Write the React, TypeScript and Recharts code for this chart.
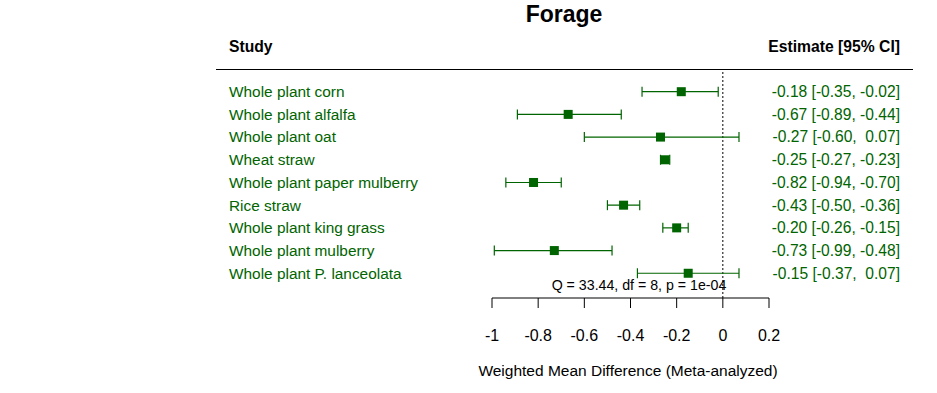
import * as React from 'react';
import {
  ScatterChart,
  Scatter,
  ErrorBar,
  XAxis,
  YAxis,
  ReferenceLine,
} from 'recharts';

const studies = [
  'Whole plant corn',
  'Whole plant alfalfa',
  'Whole plant oat',
  'Wheat straw',
  'Whole plant paper mulberry',
  'Rice straw',
  'Whole plant king grass',
  'Whole plant mulberry',
  'Whole plant P. lanceolata',
];
const estimates = [-0.18, -0.67, -0.27, -0.25, -0.82, -0.43, -0.2, -0.73, -0.15];
const lower = [-0.35, -0.89, -0.6, -0.27, -0.94, -0.5, -0.26, -0.99, -0.37];
const upper = [-0.02, -0.44, 0.07, -0.23, -0.7, -0.36, -0.15, -0.48, 0.07];
const xTicks = [-1, -0.8, -0.6, -0.4, -0.2, 0, 0.2];

const GREEN = '#006400';
const FONT = '"Liberation Sans", Arial, sans-serif';

const pad = (v: number) => {
  const s = v.toFixed(2);
  return s.startsWith('-') ? s : ' ' + s;
};

const rows = studies.map((name, i) => ({
  row: i + 1,
  name,
  est: estimates[i],
  err: [estimates[i] - lower[i], upper[i] - estimates[i]],
  label: `${estimates[i].toFixed(2)} [${pad(lower[i])}, ${pad(upper[i])}]`,
}));

const rowTicks = rows.map((r) => r.row);

const StudyTick = (props: any) => {
  const { y, payload } = props;
  const r = rows.find((d) => d.row === payload.value);
  return (
    <g>
      <text x={229} y={y + 5.4} fill={GREEN} fontSize={15.4} fontFamily={FONT}>
        {r ? r.name : ''}
      </text>
      <text
        x={900}
        y={y + 5.4}
        fill={GREEN}
        fontSize={15.6}
        fontFamily={FONT}
        textAnchor="end"
        style={{ whiteSpace: 'pre' }}
      >
        {r ? r.label : ''}
      </text>
    </g>
  );
};

const Box = (props: any) => {
  const { cx, cy } = props;
  return <rect x={cx - 4.5} y={cy - 4.5} width={9} height={9} fill={GREEN} />;
};

export default function App() {
  return (
    <div style={{ position: 'relative', width: 937, height: 393, background: '#fff', fontFamily: FONT }}>
      <style>{'body{margin:0}'}</style>
      <ScatterChart
        width={937}
        height={393}
        margin={{ top: 69, right: 168, bottom: 35, left: 0 }}
        style={{ position: 'absolute', left: 0, top: 0 }}
      >
        <XAxis
          type="number"
          dataKey="est"
          domain={[-1, 0.2]}
          ticks={xTicks}
          interval={0}
          height={60}
          tickSize={10}
          tickMargin={22}
          stroke="#000"
          tick={{ fill: '#000', fontSize: 16, fontFamily: FONT }}
          allowDataOverflow
        />
        <YAxis
          type="number"
          dataKey="row"
          domain={[0, 10.09]}
          reversed
          ticks={rowTicks}
          interval={0}
          width={492}
          axisLine={false}
          tickLine={false}
          tick={<StudyTick />}
          allowDataOverflow
        />
        <ReferenceLine x={0} stroke="#000" strokeDasharray="2 2" strokeWidth={1} />
        <Scatter data={rows} shape={<Box />} isAnimationActive={false}>
          <ErrorBar dataKey="err" direction="x" width={5} stroke={GREEN} strokeWidth={1.2} />
        </Scatter>
      </ScatterChart>
      <svg
        width={937}
        height={393}
        style={{ position: 'absolute', left: 0, top: 0, pointerEvents: 'none' }}
      >
        <text x={564} y={22} textAnchor="middle" fontSize={23} fontWeight="bold" fontFamily={FONT}>
          Forage
        </text>
        <text x={229} y={52} fontSize={15.7} fontWeight="bold" fontFamily={FONT}>
          Study
        </text>
        <text x={900} y={52} textAnchor="end" fontSize={15.7} fontWeight="bold" fontFamily={FONT}>
          Estimate [95% CI]
        </text>
        <line x1={216} x2={913} y1={69.5} y2={69.5} stroke="#000" strokeWidth={1} />
        <text x={639} y={290} textAnchor="middle" fontSize={14.2} fontFamily={FONT}>
          Q = 33.44, df = 8, p = 1e-04
        </text>
        <text x={628} y={376} textAnchor="middle" fontSize={15.5} fontFamily={FONT}>
          Weighted Mean Difference (Meta-analyzed)
        </text>
      </svg>
    </div>
  );
}
